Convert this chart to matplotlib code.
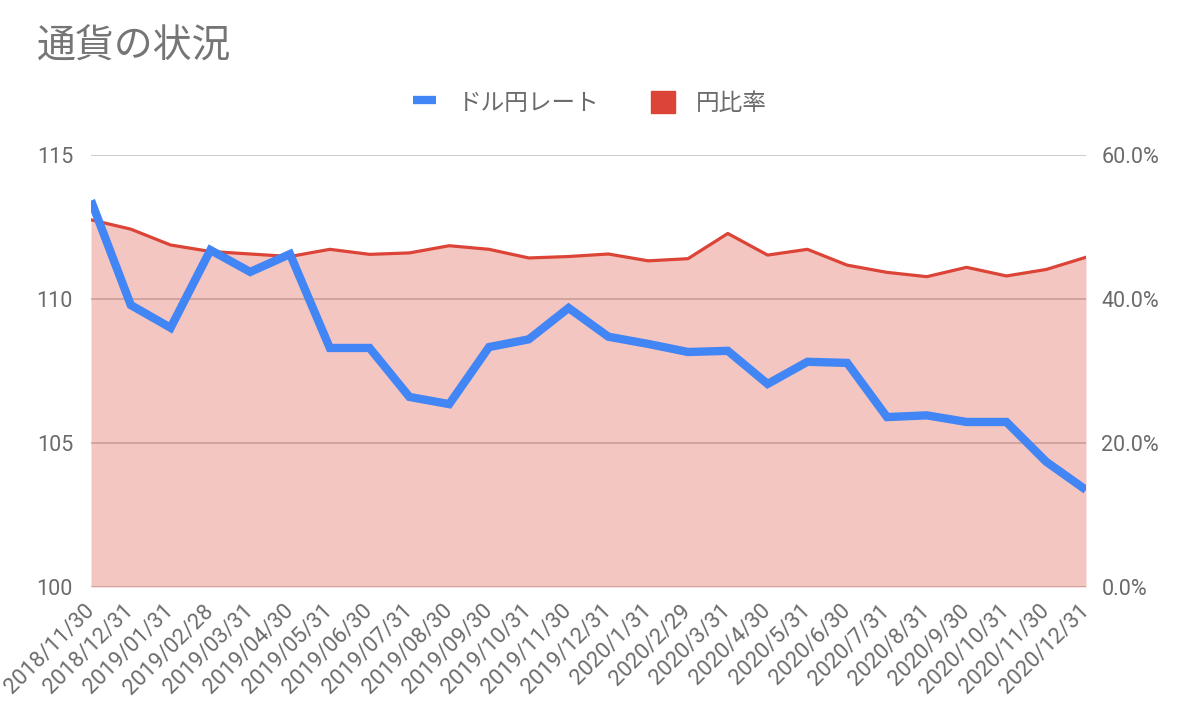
import matplotlib
matplotlib.use('Agg')
import matplotlib.pyplot as plt
from matplotlib.lines import Line2D
from matplotlib.patches import Patch
import numpy as np

plt.rcParams['font.family'] = ['Roboto', 'Noto Sans CJK JP', 'DejaVu Sans']

# data
dates = ['2018/11/30', '2018/12/31', '2019/01/31', '2019/02/28', '2019/03/31',
         '2019/04/30', '2019/05/31', '2019/06/30', '2019/07/31', '2019/08/30',
         '2019/09/30', '2019/10/31', '2019/11/30', '2019/12/31', '2020/1/31',
         '2020/2/29', '2020/3/31', '2020/4/30', '2020/5/31', '2020/6/30',
         '2020/7/31', '2020/8/31', '2020/9/30', '2020/10/31', '2020/11/30',
         '2020/12/31']
usd_jpy = [113.42, 109.79, 109.00, 111.70, 110.94, 111.56, 108.30, 108.30,
           106.60, 106.35, 108.33, 108.60, 109.69, 108.69, 108.44, 108.16,
           108.20, 107.05, 107.82, 107.78, 105.90, 105.96, 105.73, 105.73,
           104.35, 103.37]
yen_ratio = [51.0, 49.7, 47.5, 46.6, 46.25, 45.9, 46.9, 46.2, 46.4, 47.4,
             46.9, 45.7, 45.9, 46.25, 45.3, 45.6, 49.1, 46.1, 46.9, 44.7,
             43.7, 43.1, 44.4, 43.2, 44.1, 45.8]

left_ticks = [100, 105, 110, 115]
right_ticks = [0, 20, 40, 60]

blue = '#4285f4'
red = '#db4437'
txt = '#6b6b6b'

fig = plt.figure(figsize=(11.8, 7.22), dpi=100)
ax2 = fig.add_axes([91 / 1180, 1 - 587 / 722, 995 / 1180, 432 / 722])
ax = ax2.twinx()

x = np.arange(len(dates))

# red area on the right axis (bottom layer, carries the grid)
ax2.fill_between(x, 0, yen_ratio, color=red, alpha=0.3, lw=0, zorder=2)
ax2.plot(x, yen_ratio, color=red, lw=2.3, zorder=3)
ax2.set_ylim(0, 60)
ax2.set_yticks(right_ticks)
ax2.set_yticklabels([f'{v:.1f}%' for v in right_ticks])
ax2.yaxis.tick_right()
for v in right_ticks:
    ax2.axhline(v, color='#c8c8c8', lw=1.3, zorder=1)

# blue line on the left axis, on top
ax.set_zorder(ax2.get_zorder() + 1)
ax.patch.set_visible(False)
ax.plot(x, usd_jpy, color=blue, lw=6, solid_joinstyle='miter',
        solid_capstyle='butt', zorder=4)
ax.set_ylim(100, 115)
ax.set_yticks(left_ticks)
ax.yaxis.tick_left()

ax2.set_xlim(0, len(dates) - 1)
ax2.set_xticks(x)
ax2.set_xticklabels(dates, rotation=45, ha='right', va='center',
                    rotation_mode='anchor')

for a in (ax, ax2):
    for s in a.spines.values():
        s.set_visible(False)
    a.tick_params(length=0, colors=txt, labelsize=15.5)
ax2.tick_params(axis='x', labelsize=15.8, pad=15)
ax.tick_params(axis='y', pad=13)
ax2.tick_params(axis='y', pad=11)

fig.text(37 / 1180, 1 - 47 / 722, '通貨の状況', fontsize=28, color='#757575',
         va='center', ha='left')

handles = [Line2D([0], [0], color=blue, lw=6, solid_capstyle='butt'),
           Patch(facecolor=red, edgecolor=red)]
fig.legend(handles, ['ドル円レート', '円比率'], loc='center',
           bbox_to_anchor=(0.5, 1 - 103 / 722), ncol=2, frameon=False,
           fontsize=17, labelcolor=txt, handlelength=1.0, handleheight=1.1,
           columnspacing=2.2, handletextpad=0.9)

fig.savefig('out.png', dpi=100)
